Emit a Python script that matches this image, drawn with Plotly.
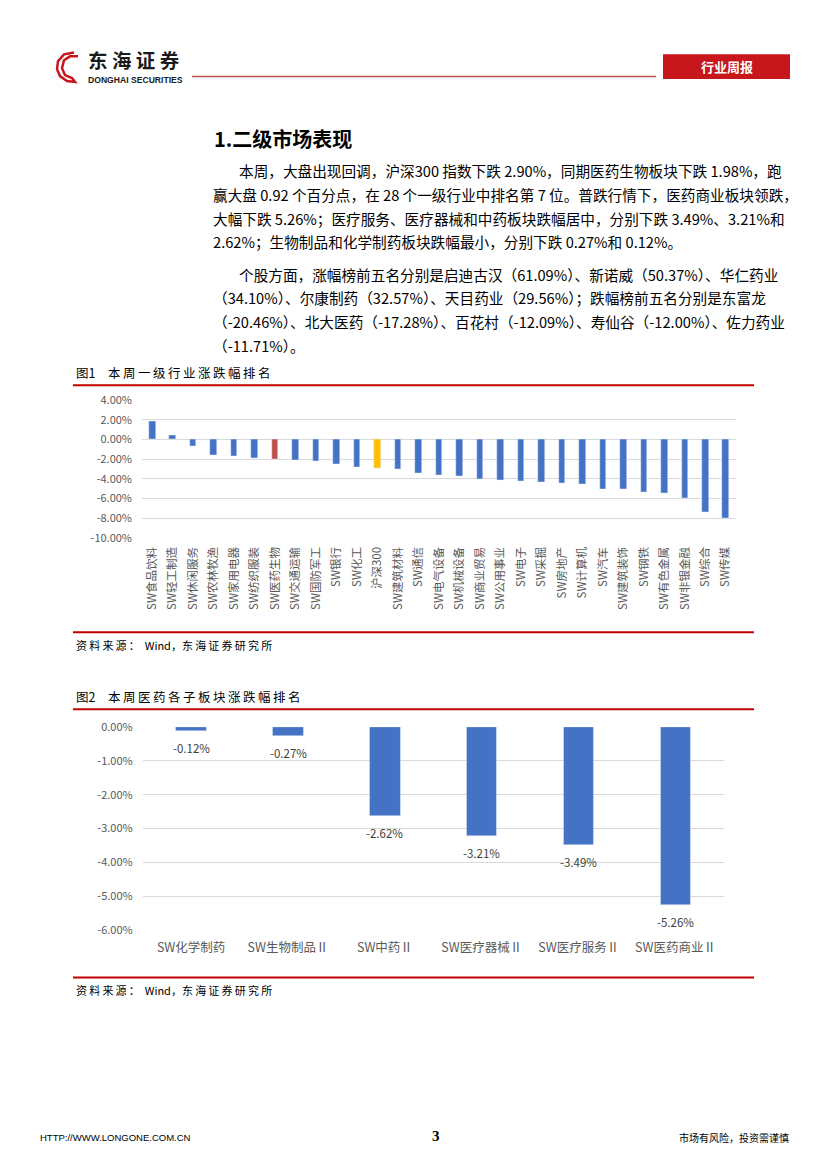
import plotly.graph_objects as go

W, H = 827, 1170

# ---------------- data ----------------
ind_categories = ["SW食品饮料", "SW轻工制造", "SW休闲服务", "SW农林牧渔", "SW家用电器", "SW纺织服装",
                  "SW医药生物", "SW交通运输", "SW国防军工", "SW银行", "SW化工", "沪深300",
                  "SW建筑材料", "SW通信", "SW电气设备", "SW机械设备", "SW商业贸易", "SW公用事业",
                  "SW电子", "SW采掘", "SW房地产", "SW计算机", "SW汽车", "SW建筑装饰", "SW钢铁",
                  "SW有色金属", "SW非银金融", "SW综合", "SW传媒"]
ind_values = [1.86, 0.48, -0.66, -1.63, -1.75, -1.86, -1.98, -2.07, -2.20, -2.48, -2.83, -2.90,
              -3.00, -3.43, -3.64, -3.74, -4.08, -4.18, -4.30, -4.37, -4.47, -4.60, -5.02, -5.04,
              -5.33, -5.43, -5.98, -7.42, -8.00]
ind_ticks = [4, 2, 0, -2, -4, -6, -8, -10]

sub_categories = ["SW化学制药", "SW生物制品Ⅱ", "SW中药Ⅱ", "SW医疗器械Ⅱ", "SW医疗服务Ⅱ", "SW医药商业Ⅱ"]
sub_values = [-0.12, -0.27, -2.62, -3.21, -3.49, -5.26]
sub_ticks = [0, -1, -2, -3, -4, -5, -6]

BLUE = "#4472C4"
RED_BAR = "#C0504D"
GOLD = "#FFC000"
ind_colors = [RED_BAR if c == "SW医药生物" else GOLD if c == "沪深300" else BLUE for c in ind_categories]

paragraph_lines = [
    "本周，大盘出现回调，沪深300 指数下跌 2.90%，同期医药生物板块下跌 1.98%，跑",
    "赢大盘 0.92 个百分点，在 28 个一级行业中排名第 7 位。普跌行情下，医药商业板块领跌，",
    "大幅下跌 5.26%；医疗服务、医疗器械和中药板块跌幅居中，分别下跌 3.49%、3.21%和",
    "2.62%；生物制品和化学制药板块跌幅最小，分别下跌 0.27%和 0.12%。",
    "个股方面，涨幅榜前五名分别是启迪古汉（61.09%）、新诺威（50.37%）、华仁药业",
    "（34.10%）、尔康制药（32.57%）、天目药业（29.56%）；跌幅榜前五名分别是东富龙",
    "（-20.46%）、北大医药（-17.28%）、百花村（-12.09%）、寿仙谷（-12.00%）、佐力药业",
    "（-11.71%）。",
]


def X(px):
    return px / W


def Y(py):
    return 1 - py / H


def spaced(s):
    return "\u2009".join(s)


FONT = "Noto Sans CJK SC"
LINE_RED = "#C00000"

fig = go.Figure()

fig.add_trace(go.Bar(x=ind_categories, y=ind_values, marker_color=ind_colors, width=0.32,
                     xaxis="x", yaxis="y", showlegend=False, hoverinfo="x+y"))
fig.add_trace(go.Bar(x=sub_categories, y=sub_values, marker_color=BLUE, width=0.317,
                     xaxis="x2", yaxis="y2", showlegend=False, hoverinfo="x+y"))

axis_common = dict(showline=False, zeroline=False, ticks="", fixedrange=True)

fig.update_layout(
    width=W, height=H, margin=dict(l=0, r=0, t=0, b=0),
    paper_bgcolor="white", plot_bgcolor="white",
    font=dict(family=FONT, color="#595959"),
    bargap=0,
    xaxis=dict(domain=[X(142), X(736)], type="category", showgrid=False, tickangle=-90,
               tickfont=dict(size=11.5, color="#595959"), ticklabelstandoff=6, anchor="y", **axis_common),
    yaxis=dict(domain=[Y(536), Y(396.7)], range=[-10, 4], tickvals=ind_ticks,
               ticktext=[f"{t:.2f}%" for t in ind_ticks], showgrid=True, gridcolor="#D9D9D9",
               gridwidth=1, tickfont=dict(size=11, color="#595959"), ticklabelstandoff=9,
               anchor="x", **axis_common),
    xaxis2=dict(domain=[X(142.7), X(724)], type="category", showgrid=False,
                tickfont=dict(size=12.5, color="#595959"), ticklabelstandoff=8, anchor="y2", **axis_common),
    yaxis2=dict(domain=[Y(934), Y(728)], range=[-6, 0], tickvals=sub_ticks,
                ticktext=[f"{t:.2f}%" for t in sub_ticks], showgrid=True, gridcolor="#D9D9D9",
                gridwidth=1, tickfont=dict(size=11, color="#595959"), ticklabelstandoff=9,
                anchor="x2", **axis_common),
)

annotations = []
shapes = []

# data labels for chart 2, positioned through the axes
for c, v in zip(sub_categories, sub_values):
    annotations.append(dict(x=c, y=v, xref="x2", yref="y2", text=f"{v:.2f}%", showarrow=False,
                            xanchor="center", yanchor="top", yshift=-7,
                            font=dict(size=11.5, color="#404040", family=FONT)))


def text(px, py, s, size, color="#000000", anchor="left", bold=False, family=FONT):
    annotations.append(dict(x=X(px), y=Y(py), xref="paper", yref="paper", text=f"<b>{s}</b>" if bold else s,
                            showarrow=False, xanchor=anchor, yanchor="middle", borderpad=0,
                            font=dict(size=size, color=color, family=family)))


def hline(x0, x1, py, color, width):
    shapes.append(dict(type="line", xref="paper", yref="paper", x0=X(x0), x1=X(x1), y0=Y(py), y1=Y(py),
                       line=dict(color=color, width=width)))


# ---- header ----
logo_pts = [(74, 44), (64, 46), (58, 53), (57, 61), (60, 68), (67, 73), (75, 74), (72, 70), (65, 67),
            (62, 60), (64, 52), (70, 48), (78, 48)]
path = "M " + " L ".join(f"{X(a):.5f},{Y(b):.5f}" for a, b in logo_pts)
shapes.append(dict(type="path", xref="paper", yref="paper", path=path, line=dict(color="#C8161D", width=2.5)))
text(87, 51.5, "东 海 证 券", 19.5, "#1a1a1a", bold=True)
text(87, 72, "DONGHAI SECURITIES", 8.6, "#1a1a1a", bold=True, family="Liberation Sans")
hline(192, 656, 68.5, "#C0504D", 1.5)
shapes.append(dict(type="rect", xref="paper", yref="paper", x0=X(663), x1=X(790), y0=Y(71), y1=Y(46),
                   fillcolor="#C8161D", line=dict(width=0)))
text(726.5, 58.5, "行业周报", 13, "white", anchor="center", bold=True)

# ---- heading and paragraph ----
text(213, 131, "1.二级市场表现", 20, "#000000", bold=True)
line_y = [164, 188, 212, 236, 269, 293, 317, 341]
indent = [True, False, False, False, True, False, False, False]
for s, py, ind in zip(paragraph_lines, line_y, indent):
    text(238 if ind else 212, py, s, 14.65, "#000000")

# ---- chart 1 frame ----
text(75, 369, "图1" + "\u2003" + spaced("本周一级行业涨跌幅排名"), 12.5, "#000000")
hline(73, 754, 381.5, LINE_RED, 2)
hline(73, 754, 632, LINE_RED, 2)
text(75, 645, spaced("资料来源：") + "  Wind，" + spaced("东海证券研究所"), 11, "#000000")

# ---- chart 2 frame ----
text(75, 697, "图2" + "\u2003" + spaced("本周医药各子板块涨跌幅排名"), 12.5, "#000000")
hline(73, 754, 710, LINE_RED, 2)
hline(73, 754, 982, LINE_RED, 2)
text(75, 995, spaced("资料来源：") + "  Wind，" + spaced("东海证券研究所"), 11, "#000000")

# ---- footer ----
text(39, 1144, "HTTP://WWW.LONGONE.COM.CN", 9.5, "#000000", family="Liberation Sans")
text(436, 1143, "3", 15, "#000000", anchor="center", bold=True, family="Liberation Serif")
text(790, 1144, "市场有风险，投资需谨慎", 10, "#000000", anchor="right")

fig.update_layout(annotations=annotations, shapes=shapes)

fig.write_html("out.html", config={"displayModeBar": False},
               post_script="document.body.style.margin='0';document.body.style.overflow='hidden';")
